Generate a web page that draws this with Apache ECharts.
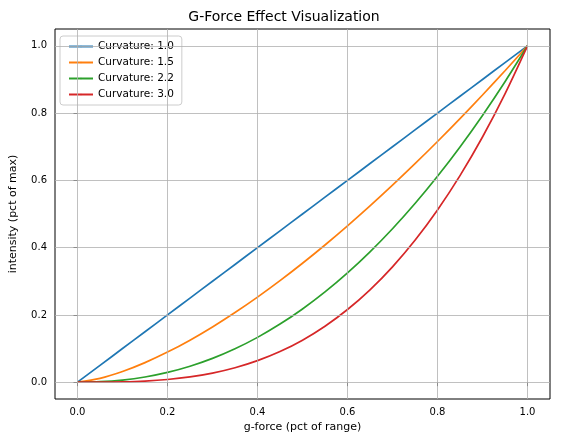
<!DOCTYPE html>
<html><head><meta charset="utf-8">
<script src="https://cdn.jsdelivr.net/npm/echarts@6/dist/echarts.min.js"></script>
<style>html,body{margin:0;padding:0;background:#fff}#c{width:568px;height:443px}</style>
</head><body><div id="c"></div>
<script>
const xs = [0,0.05,0.1,0.15,0.2,0.25,0.3,0.35,0.4,0.45,0.5,0.55,0.6,0.65,0.7,0.75,0.8,0.85,0.9,0.95,1];
const curv10 = [0,0.05,0.1,0.15,0.2,0.25,0.3,0.35,0.4,0.45,0.5,0.55,0.6,0.65,0.7,0.75,0.8,0.85,0.9,0.95,1];
const curv15 = [0,0.0112,0.0316,0.0581,0.0894,0.125,0.1643,0.2071,0.253,0.3019,0.3536,0.4079,0.4648,0.524,0.5857,0.6495,0.7155,0.7837,0.8538,0.9259,1];
const curv22 = [0,0.0014,0.0063,0.0154,0.029,0.0474,0.0707,0.0993,0.1332,0.1727,0.2177,0.2684,0.325,0.3876,0.4562,0.5311,0.6121,0.6994,0.7931,0.8933,1];
const curv30 = [0,0.0001,0.001,0.0034,0.008,0.0156,0.027,0.0429,0.064,0.0911,0.125,0.1664,0.216,0.2746,0.343,0.4219,0.512,0.6141,0.729,0.8574,1];
const names = ['Curvature: 1.0','Curvature: 1.5','Curvature: 2.2','Curvature: 3.0'];
const colors = ['#1f77b4','#ff7f0e','#2ca02c','#d62728'];
const ticks = [0,0.2,0.4,0.6,0.8,1.0];
const font = 'DejaVu Sans';
const all = [curv10,curv15,curv22,curv30];
const series = all.map((ys,i)=>({
  name:names[i], type:'line', symbol:'none', smooth:0.3, z:3,
  lineStyle:{color:colors[i],width:1.7}, itemStyle:{color:colors[i]},
  data: xs.map((x,j)=>[x,ys[j]])
}));
series.push({
  type:'line', data:[], silent:true, z:1,
  markLine:{silent:true, symbol:'none', label:{show:false},
    lineStyle:{color:'#b0b0b0', type:'solid', width:0.8},
    data: ticks.map(t=>({xAxis:t})).concat(ticks.map(t=>({yAxis:t})))}
});
const axisCommon = {
  type:'value', min:-0.05, max:1.05,
  axisLine:{show:false}, splitLine:{show:false},
  axisTick:{show:true, inside:false, length:4, customValues:ticks, lineStyle:{color:'#000'}},
  axisLabel:{customValues:ticks, color:'#000', fontFamily:font, fontSize:10, formatter:v=>v.toFixed(1)},
  nameLocation:'middle', nameTextStyle:{color:'#000', fontFamily:font, fontSize:11}
};
const chart = echarts.init(document.getElementById('c'));
chart.setOption({
  animation:false,
  title:{text:'G-Force Effect Visualization', left:'center', top:5, textStyle:{fontFamily:font, fontSize:14, fontWeight:'normal', color:'#000'}},
  grid:{left:52, right:18, top:29, bottom:44, show:true, borderColor:'#000', borderWidth:1},
  legend:{orient:'vertical', left:60, top:36, data:names, backgroundColor:'#fff', borderColor:'#ccc', borderWidth:1, borderRadius:3,
    padding:[5,8], itemGap:5, itemWidth:24, itemHeight:2, textStyle:{fontFamily:font, fontSize:10.5, color:'#000'}},
  xAxis:Object.assign({}, axisCommon, {name:'g-force (pct of range)', nameGap:20}),
  yAxis:Object.assign({}, axisCommon, {name:'intensity (pct of max)', nameGap:36}),
  series
});
</script></body></html>
